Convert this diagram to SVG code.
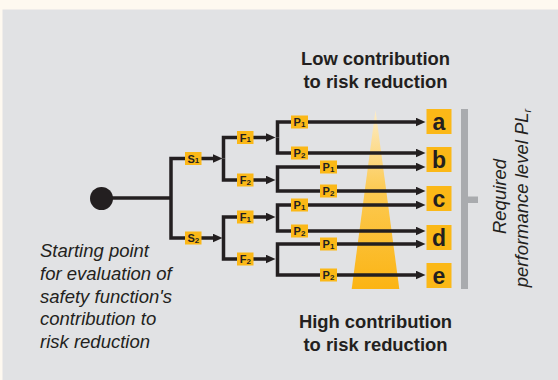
<svg xmlns="http://www.w3.org/2000/svg" width="558" height="380" viewBox="0 0 558 380">
<defs>
<style>
.ln{fill:none;stroke:#231f20;stroke-width:3.5;stroke-linejoin:miter;stroke-linecap:butt}
.arr{marker-end:url(#ah)}
.lb{fill:#fbb817}
.lt{font-family:"Liberation Sans",Arial,sans-serif;font-weight:bold;font-size:11px;fill:#231f20;text-anchor:middle}
.sub{font-size:8px}
.big{font-family:"Liberation Sans",Arial,sans-serif;font-weight:bold;font-size:23px;fill:#231f20;text-anchor:middle}
.hd{font-family:"Liberation Sans",Arial,sans-serif;font-weight:bold;font-size:18.4px;fill:#231f20;text-anchor:middle}
.it{font-family:"Liberation Sans",Arial,sans-serif;font-style:italic;font-size:18.5px;fill:#231f20}
</style>
<marker id="ah" markerUnits="userSpaceOnUse" markerWidth="10" markerHeight="9" viewBox="0 0 10 9" refX="0.5" refY="4.5" orient="auto">
<path d="M0,0 L10,4.5 L0,9 z" fill="#231f20"/>
</marker>
<linearGradient id="tri" x1="0" y1="0" x2="0" y2="1">
<stop offset="0" stop-color="#fdedc9"/>
<stop offset="0.45" stop-color="#fcca52"/>
<stop offset="1" stop-color="#fbb414"/>
</linearGradient>
</defs>
<rect x="0" y="0" width="558" height="380" fill="#fef9f0"/>
<rect x="2.5" y="9.5" width="555.5" height="370.5" fill="#e1e2e4"/>

<g id="heading-low">
<text class="hd" x="375.5" y="64.5">Low contribution</text>
<text class="hd" x="375.5" y="88">to risk reduction</text>
</g>
<g id="heading-high">
<text class="hd" x="375.5" y="327.5">High contribution</text>
<text class="hd" x="375.5" y="350.5">to risk reduction</text>
</g>

<g id="triangle">
<polygon points="375.5,110 399.3,289 351.7,289" fill="url(#tri)"/>
</g>

<g id="connectors">
<path class="ln" d="M101 198 H171"/>
<path class="ln arr" d="M171 198 V158.5 H213"/>
<path class="ln arr" d="M171 198 V238 H213"/>
<path class="ln arr" d="M223.5 158.5 V137.5 H266"/>
<path class="ln arr" d="M223.5 158.5 V180 H266"/>
<path class="ln arr" d="M223.5 238 V217 H266"/>
<path class="ln arr" d="M223.5 238 V259 H266"/>
<path class="ln arr" d="M277.5 137.5 V122 H416"/>
<path class="ln arr" d="M277.5 137.5 V153 H416"/>
<path class="ln arr" d="M277.5 180 V167 H416"/>
<path class="ln arr" d="M277.5 180 V191 H416"/>
<path class="ln arr" d="M277.5 217 V205 H416"/>
<path class="ln arr" d="M277.5 217 V231 H416"/>
<path class="ln arr" d="M277.5 259 V244 H416"/>
<path class="ln arr" d="M277.5 259 V275 H416"/>
</g>

<g id="start">
<circle cx="101.5" cy="198.5" r="11.5" fill="#231f20"/>
</g>
<g id="start-label">
<text class="it" x="40" y="257">Starting point</text>
<text class="it" x="40" y="280">for evaluation of</text>
<text class="it" x="40" y="302.5">safety function's</text>
<text class="it" x="40" y="325">contribution to</text>
<text class="it" x="40" y="347.5">risk reduction</text>
</g>

<g id="S1"><rect class="lb" x="185" y="152" width="16.5" height="13"/><text class="lt" x="193.3" y="162.5">S<tspan class="sub" dy="0.8">1</tspan></text></g>
<g id="S2"><rect class="lb" x="185" y="231.5" width="16.5" height="13"/><text class="lt" x="193.3" y="242">S<tspan class="sub" dy="0.8">2</tspan></text></g>

<g id="F1-top"><rect class="lb" x="237" y="131" width="16.5" height="13"/><text class="lt" x="245.3" y="141.5">F<tspan class="sub" dy="0.8">1</tspan></text></g>
<g id="F2-top"><rect class="lb" x="237" y="173.5" width="16.5" height="13"/><text class="lt" x="245.3" y="184">F<tspan class="sub" dy="0.8">2</tspan></text></g>
<g id="F1-bottom"><rect class="lb" x="237" y="210.5" width="16.5" height="13"/><text class="lt" x="245.3" y="221">F<tspan class="sub" dy="0.8">1</tspan></text></g>
<g id="F2-bottom"><rect class="lb" x="237" y="252.5" width="16.5" height="13"/><text class="lt" x="245.3" y="263">F<tspan class="sub" dy="0.8">2</tspan></text></g>

<g id="P1-g1"><rect class="lb" x="291" y="115.5" width="17" height="13"/><text class="lt" x="299.5" y="126">P<tspan class="sub" dy="0.8">1</tspan></text></g>
<g id="P2-g1"><rect class="lb" x="291" y="146.5" width="17" height="13"/><text class="lt" x="299.5" y="157">P<tspan class="sub" dy="0.8">2</tspan></text></g>
<g id="P1-g2"><rect class="lb" x="320" y="160.5" width="17" height="13"/><text class="lt" x="328.5" y="171">P<tspan class="sub" dy="0.8">1</tspan></text></g>
<g id="P2-g2"><rect class="lb" x="320" y="184.5" width="17" height="13"/><text class="lt" x="328.5" y="195">P<tspan class="sub" dy="0.8">2</tspan></text></g>
<g id="P1-g3"><rect class="lb" x="291" y="198.5" width="17" height="13"/><text class="lt" x="299.5" y="209">P<tspan class="sub" dy="0.8">1</tspan></text></g>
<g id="P2-g3"><rect class="lb" x="291" y="224.5" width="17" height="13"/><text class="lt" x="299.5" y="235">P<tspan class="sub" dy="0.8">2</tspan></text></g>
<g id="P1-g4"><rect class="lb" x="320" y="237.5" width="17" height="13"/><text class="lt" x="328.5" y="248">P<tspan class="sub" dy="0.8">1</tspan></text></g>
<g id="P2-g4"><rect class="lb" x="320" y="268.5" width="17" height="13"/><text class="lt" x="328.5" y="279">P<tspan class="sub" dy="0.8">2</tspan></text></g>

<g id="PL-a"><rect class="lb" x="426.5" y="109" width="25" height="25"/><text class="big" x="439" y="129.8">a</text></g>
<g id="PL-b"><rect class="lb" x="426.5" y="147" width="25" height="25"/><text class="big" x="439" y="167.8">b</text></g>
<g id="PL-c"><rect class="lb" x="426.5" y="186" width="25" height="25"/><text class="big" x="439" y="206.8">c</text></g>
<g id="PL-d"><rect class="lb" x="426.5" y="225" width="25" height="25"/><text class="big" x="439" y="245.8">d</text></g>
<g id="PL-e"><rect class="lb" x="426.5" y="263" width="25" height="25"/><text class="big" x="439" y="283.8">e</text></g>

<g id="bracket">
<rect x="461" y="109" width="7" height="180" fill="#a9abae"/>
<rect x="467" y="196.5" width="11" height="6.5" fill="#a9abae"/>
</g>
<g id="required-label">
<text class="it" text-anchor="middle" transform="translate(506,196.5) rotate(-90)">Required</text>
<text class="it" text-anchor="middle" transform="translate(528,198) rotate(-90)">performance level PL<tspan font-size="11" dy="3">r</tspan></text>
</g>
</svg>
